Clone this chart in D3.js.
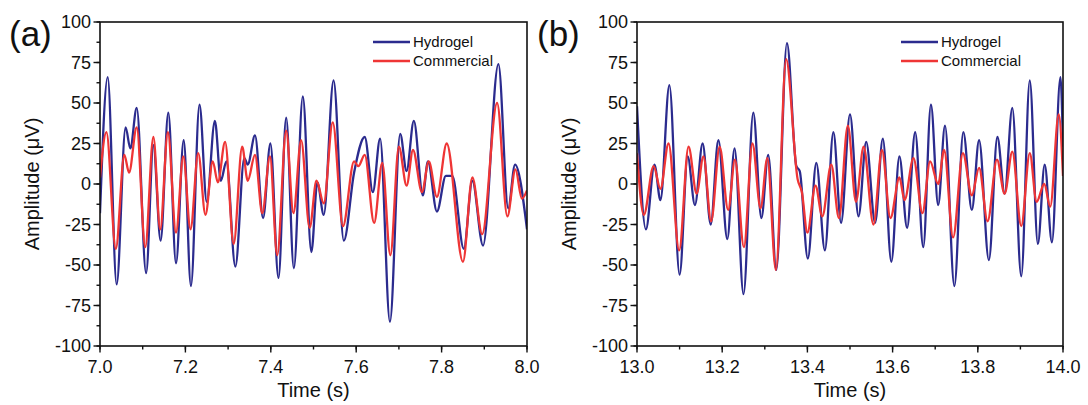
<!DOCTYPE html>
<html lang="en">
<head>
    <meta charset="UTF-8">
    <style>
        body {
            margin: 0;
            padding: 0;
            background-color: #fff;
            overflow: hidden;
        }

        #chart {
            display: block;
        }

        .frame {
            fill: none;
            stroke: #111;
            stroke-width: 1.6px;
        }

        .tick-line {
            stroke: #111;
            stroke-width: 1.4px;
        }

        text {
            font-family: Arial, "Liberation Sans", sans-serif;
            fill: #111;
        }

        .hydrogel {
            fill: none;
            stroke: #2b2b8e;
            stroke-width: 2.3px;
        }

        .commercial {
            fill: none;
            stroke: #ef3535;
            stroke-width: 2.3px;
        }
    </style>
</head>
<body>
    <svg id="chart"></svg>

    <script src="https://d3js.org/d3.v7.min.js"></script>
    <script>
        const width = 1088;
        const height = 405;

        // axis ticks
        const yTicks = [-100, -75, -50, -25, 0, 25, 50, 75, 100];
        const xTicksA = [7.0, 7.2, 7.4, 7.6, 7.8, 8.0];
        const xTicksB = [13.0, 13.2, 13.4, 13.6, 13.8, 14.0];
        const seriesNames = ["Hydrogel", "Commercial"];

        // panel (a): [time (s), amplitude (uV)]
        const hydrogelA = [
            [7.000, -18], [7.018, 66], [7.039, -62], [7.060, 35], [7.071, 22], [7.086, 47],
            [7.108, -55], [7.125, 24], [7.142, -35], [7.160, 44], [7.178, -49], [7.196, 27],
            [7.213, -63], [7.233, 49], [7.250, -11], [7.269, 39], [7.283, 2], [7.296, 14],
            [7.317, -51], [7.338, 16], [7.346, 12], [7.363, 30], [7.382, -21], [7.399, 25],
            [7.418, -58], [7.436, 41], [7.454, -52], [7.475, 54], [7.495, -42], [7.509, 1],
            [7.524, -19], [7.547, 64], [7.571, -35], [7.595, 7], [7.620, 29], [7.639, -5],
            [7.656, 28], [7.679, -85], [7.703, 31], [7.718, 8], [7.735, 39], [7.756, -7],
            [7.768, 14], [7.789, -17], [7.810, 5], [7.825, 5], [7.852, -40], [7.872, 2],
            [7.897, -38], [7.933, 74], [7.956, -15], [7.972, 12], [8.000, -28]
        ];
        const commercialA = [
            [7.000, 4], [7.015, 32], [7.037, -40], [7.057, 18], [7.068, 7], [7.086, 35],
            [7.106, -39], [7.125, 29], [7.141, -28], [7.159, 32], [7.178, -30], [7.195, 17],
            [7.212, -28], [7.230, 19], [7.247, -19], [7.264, 14], [7.276, 1], [7.293, 26],
            [7.313, -37], [7.333, 23], [7.346, 2], [7.363, 18], [7.380, -18], [7.398, 17],
            [7.415, -44], [7.436, 33], [7.453, -18], [7.471, 27], [7.491, -27], [7.507, 2],
            [7.524, -12], [7.545, 38], [7.569, -26], [7.595, 14], [7.605, 11], [7.620, 18],
            [7.642, -24], [7.661, 13], [7.680, -44], [7.700, 23], [7.718, -1], [7.733, 21],
            [7.754, -5], [7.770, 14], [7.789, -8], [7.812, 25], [7.850, -48], [7.872, 4],
            [7.895, -31], [7.930, 50], [7.954, -20], [7.973, 9], [7.988, -9], [8.000, -4]
        ];

        // panel (b)
        const hydrogelB = [
            [13.000, 48], [13.021, -28], [13.041, 12], [13.055, -10], [13.076, 61], [13.100, -56],
            [13.119, 17], [13.136, -13], [13.154, 25], [13.173, -25], [13.191, 27], [13.212, -34],
            [13.229, 22], [13.250, -68], [13.273, 44], [13.292, -21], [13.308, 18], [13.327, -53],
            [13.352, 87], [13.374, 11], [13.382, 8], [13.401, -46], [13.421, 13], [13.441, -41],
            [13.461, 32], [13.479, -24], [13.500, 43], [13.520, -20], [13.538, 26], [13.559, -24],
            [13.577, 28], [13.597, -48], [13.616, 17], [13.634, -27], [13.653, 32], [13.672, -39],
            [13.690, 49], [13.707, -13], [13.723, 36], [13.745, -63], [13.766, 32], [13.786, -16],
            [13.803, 27], [13.826, -47], [13.846, 29], [13.863, -6], [13.881, 47], [13.902, -57],
            [13.922, 64], [13.941, -37], [13.957, 12], [13.974, -36], [13.994, 66], [14.000, 23]
        ];
        const commercialB = [
            [13.000, 19], [13.016, -19], [13.039, 11], [13.055, -3], [13.074, 25], [13.099, -41],
            [13.121, 23], [13.140, -6], [13.156, 17], [13.174, -23], [13.194, 23], [13.214, -16],
            [13.230, 15], [13.251, -39], [13.271, 25], [13.290, -15], [13.306, 16], [13.326, -53],
            [13.350, 77], [13.377, 3], [13.387, -5], [13.400, -30], [13.419, -1], [13.435, -20],
            [13.456, 12], [13.474, -21], [13.495, 36], [13.514, -11], [13.532, 23], [13.555, -25],
            [13.575, 21], [13.595, -21], [13.616, 4], [13.628, -10], [13.649, 16], [13.670, -18],
            [13.688, 14], [13.707, 0], [13.721, 21], [13.742, -33], [13.765, 19], [13.786, -7],
            [13.803, 10], [13.823, -23], [13.845, 15], [13.863, -6], [13.881, 20], [13.902, -26],
            [13.922, 19], [13.938, -11], [13.956, 0], [13.970, -14], [13.990, 43], [14.000, 5]
        ];

        const panels = [
            { label: "(a)", labelX: 9, left: 100, right: 527, domain: [7, 8], ticks: xTicksA,
              hyd: hydrogelA, com: commercialA, legendX: 373 },
            { label: "(b)", labelX: 537, left: 637, right: 1063, domain: [13, 14], ticks: xTicksB,
              hyd: hydrogelB, com: commercialB, legendX: 901 }
        ];

        const plotTop = 22, plotBottom = 346;

        const svg = d3.select("#chart")
            .attr("width", width)
            .attr("height", height);

        const y = d3.scaleLinear().domain([-100, 100]).range([plotBottom, plotTop]);

        panels.forEach(p => {
            const x = d3.scaleLinear().domain(p.domain).range([p.left, p.right]);
            const g = svg.append("g");

            // minor ticks
            const xMinor = d3.range(p.domain[0], p.domain[1] + 0.001, 0.1);
            const yMinor = d3.range(-100, 100.001, 12.5);

            g.selectAll(".xminor").data(xMinor).enter().append("line")
                .attr("class", "tick-line")
                .attr("x1", d => x(d)).attr("x2", d => x(d))
                .attr("y1", plotBottom).attr("y2", plotBottom + 3.5);
            g.selectAll(".yminor").data(yMinor).enter().append("line")
                .attr("class", "tick-line")
                .attr("x1", p.left).attr("x2", p.left - 3.5)
                .attr("y1", d => y(d)).attr("y2", d => y(d));

            // major ticks
            g.selectAll(".xmajor").data(p.ticks).enter().append("line")
                .attr("class", "tick-line")
                .attr("x1", d => x(d)).attr("x2", d => x(d))
                .attr("y1", plotBottom).attr("y2", plotBottom + 6.5);
            g.selectAll(".ymajor").data(yTicks).enter().append("line")
                .attr("class", "tick-line")
                .attr("x1", p.left).attr("x2", p.left - 6.5)
                .attr("y1", d => y(d)).attr("y2", d => y(d));

            // tick labels
            g.selectAll(".xlab").data(p.ticks).enter().append("text")
                .attr("x", d => x(d))
                .attr("y", plotBottom + 27)
                .attr("text-anchor", "middle")
                .style("font-size", "18px")
                .text(d => d.toFixed(1));
            g.selectAll(".ylab").data(yTicks).enter().append("text")
                .attr("x", p.left - 9)
                .attr("y", d => y(d) + 6)
                .attr("text-anchor", "end")
                .style("font-size", "18px")
                .text(d => d);

            // axis titles
            g.append("text")
                .attr("x", (p.left + p.right) / 2)
                .attr("y", 397)
                .attr("text-anchor", "middle")
                .style("font-size", "20px")
                .text("Time (s)");
            g.append("text")
                .attr("transform", `translate(${p.left - 61},${(plotTop + plotBottom) / 2}) rotate(-90)`)
                .attr("text-anchor", "middle")
                .style("font-size", "20px")
                .text("Amplitude (\u03bcV)");

            // panel label
            g.append("text")
                .attr("x", p.labelX)
                .attr("y", 46)
                .style("font-size", "35px")
                .text(p.label);

            // data lines
            const line = d3.line()
                .x(d => x(d[0]))
                .y(d => y(d[1]))
                .curve(d3.curveMonotoneX);

            const clipId = "clip" + p.label.replace(/\W/g, "");
            svg.append("clipPath").attr("id", clipId)
                .append("rect")
                .attr("x", p.left).attr("y", plotTop)
                .attr("width", p.right - p.left).attr("height", plotBottom - plotTop);

            g.append("path").datum(p.hyd)
                .attr("class", "hydrogel")
                .attr("clip-path", `url(#${clipId})`)
                .attr("d", line);
            g.append("path").datum(p.com)
                .attr("class", "commercial")
                .attr("clip-path", `url(#${clipId})`)
                .attr("d", line);

            // frame
            g.append("rect")
                .attr("class", "frame")
                .attr("x", p.left).attr("y", plotTop)
                .attr("width", p.right - p.left).attr("height", plotBottom - plotTop);

            // legend
            const legend = g.append("g");
            seriesNames.forEach((name, i) => {
                const ly = 42 + i * 19;
                legend.append("line")
                    .attr("class", i === 0 ? "hydrogel" : "commercial")
                    .attr("x1", p.legendX).attr("x2", p.legendX + 37)
                    .attr("y1", ly).attr("y2", ly);
                legend.append("text")
                    .attr("x", p.legendX + 40)
                    .attr("y", ly + 5)
                    .style("font-size", "15px")
                    .text(name);
            });
        });
    </script>
</body>
</html>
